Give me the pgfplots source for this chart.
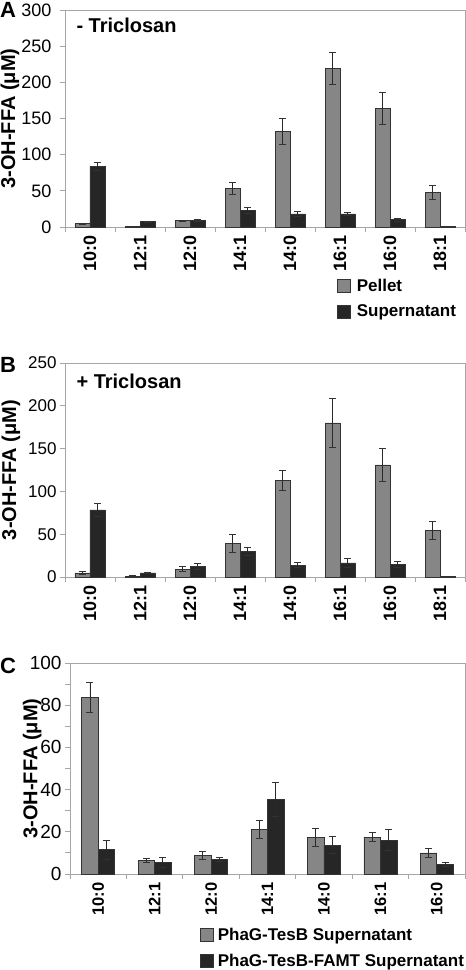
\documentclass[border=0pt]{standalone}
\usepackage{fontspec}
\setmainfont{Liberation Sans}
\usepackage{pgfplots}
\usepackage{pgfplotstable}
\pgfplotsset{compat=1.18}
\definecolor{axgray}{HTML}{A6A6A6}
\definecolor{bargray}{HTML}{868686}
\definecolor{barblack}{HTML}{262626}
\definecolor{edge}{HTML}{333333}

\pgfplotstableread{
x pel pele sup supe
0 4.6 1 84 6
1 1 0.3 7.4 1
2 9 0.8 9 1.5
3 53 8 22.5 4
4 132 18 18 4
5 219.5 22 18 2
6 164 22.5 10 2
7 48 10 0.3 0
}\tabA
\pgfplotstableread{
x pel pele sup supe
0 4.7 2 78.5 7.5
1 1 0.3 4.7 1
2 9.3 3 12.5 3.5
3 39.7 10.5 30 5
4 113 12 14 2.5
5 180 28.5 16.4 5
6 131 19.5 14.8 3.5
7 54.5 11 0.3 0
}\tabB
\pgfplotstableread{
x tes tese famt famte
0 83.7 7 11.5 4.6
1 6.6 1 5.5 2.4
2 8.7 2 7.1 1
3 21.3 4.3 35.5 8
4 17.5 4.3 13.6 4
5 17.5 2 16.1 5
6 10 2 4.7 1
}\tabC

\pgfplotsset{
  sqlegend/.style={legend image code/.code={\draw[##1] (0pt,-6.5pt) rectangle (13pt,6.5pt);}},
  panel/.style={
    scale only axis,
    anchor=north west,
    ybar=0pt,
    xmin=-0.5,
    tick align=outside,
    tick pos=left,
    axis line style={draw=axgray, line width=0.9pt},
    every tick/.style={draw=axgray, line width=0.9pt},
    major tick length=5pt,
    minor tick length=5pt,
    major x tick style={draw=none},
    ymin=0,
    /pgf/number format/assume math mode=true,
    yticklabel style={font=\fontsize{18}{20}\selectfont},
    xticklabel style={rotate=90, anchor=east, font=\bfseries\fontsize{18}{20}\selectfont},
    ylabel={\bfseries 3-OH-FFA (μM)},
    label style={font=\bfseries\fontsize{20}{22}\selectfont},
    every axis plot/.append style={draw=edge, line width=0.6pt,
      error bars/y dir=both, error bars/y explicit,
      error bars/error bar style={draw=edge!80!black, line width=0.8pt},
      error bars/error mark options={draw=edge, line width=0.8pt, mark size=3.5pt, rotate=90}},
    legend style={draw=none, fill=none, legend cell align=left, anchor=north west,
      font=\bfseries\fontsize{17}{19}\selectfont, row sep=10pt, column sep=5pt,
      nodes={inner sep=1pt}},
  }
}

\begin{document}
\begin{tikzpicture}
\useasboundingbox (0pt,0pt) rectangle (466pt,-970pt);

% Panel A
\begin{axis}[panel, at={(65pt,-10pt)}, width=400pt, height=217pt,
  bar width=15pt, xmax=7.5, ymax=300, ytick={0,50,...,300},
  xtick={0,...,7}, xticklabels={10:0,12:1,12:0,14:1,14:0,16:1,16:0,18:1},
  minor xtick={-0.5,0.5,...,7.5},
  yticklabel style={xshift=-5pt},
  ylabel style={at={(axis description cs:-0.1375,0.5)}, anchor=center},
  legend style={at={(axis description cs:0.6725,-0.225)}}]
\addplot[fill=bargray, sqlegend] table[x=x, y=pel, y error=pele] {\tabA};
\addplot[fill=barblack, sqlegend] table[x=x, y=sup, y error=supe] {\tabA};
\legend{Pellet, Supernatant}
\node[anchor=west, font=\bfseries\fontsize{20}{22}\selectfont] at (axis description cs:0.02,0.9286) {- Triclosan};
\end{axis}

% Panel B
\begin{axis}[panel, at={(65pt,-363pt)}, width=400pt, height=214pt,
  bar width=15pt, xmax=7.5, ymax=250, ytick={0,50,...,250},
  xtick={0,...,7}, xticklabels={10:0,12:1,12:0,14:1,14:0,16:1,16:0,18:1},
  minor xtick={-0.5,0.5,...,7.5},
  yticklabel style={font=\fontsize{17}{19}\selectfont},
  ylabel style={at={(axis description cs:-0.135,0.5)}, anchor=center}]
\addplot[fill=bargray] table[x=x, y=pel, y error=pele] {\tabB};
\addplot[fill=barblack] table[x=x, y=sup, y error=supe] {\tabB};
\node[anchor=west, font=\bfseries\fontsize{20}{22}\selectfont] at (axis description cs:0.02,0.916) {+ Triclosan};
\end{axis}

% Panel C
\begin{axis}[panel, at={(70pt,-663pt)}, width=395pt, height=211pt,
  bar width=16.5pt, xmax=6.5, ymax=100, ytick={0,20,...,100}, minor y tick num=1,
  xtick={0,...,6}, xticklabels={10:0,12:1,12:0,14:1,14:0,16:1,16:0},
  minor xtick={-0.5,0.5,...,6.5},
  yticklabel style={font=\fontsize{19}{21}\selectfont},
  xticklabel style={font=\bfseries\fontsize{16.5}{18}\selectfont},
  ylabel style={at={(axis description cs:-0.096,0.5)}, anchor=center},
  legend style={at={(axis description cs:0.3215,-0.241)}, column sep=3pt}]
\addplot[fill=bargray, sqlegend] table[x=x, y=tes, y error=tese] {\tabC};
\addplot[fill=barblack, sqlegend] table[x=x, y=famt, y error=famte] {\tabC};
\legend{PhaG-TesB Supernatant, PhaG-TesB-FAMT Supernatant}
\end{axis}

\node[anchor=north west, inner sep=0pt, font=\bfseries\fontsize{22}{24}\selectfont] at (0pt,-2pt) {A};
\node[anchor=north west, inner sep=0pt, font=\bfseries\fontsize{22}{24}\selectfont] at (0pt,-357pt) {B};
\node[anchor=north west, inner sep=0pt, font=\bfseries\fontsize{22}{24}\selectfont] at (0pt,-658pt) {C};
\end{tikzpicture}
\end{document}
